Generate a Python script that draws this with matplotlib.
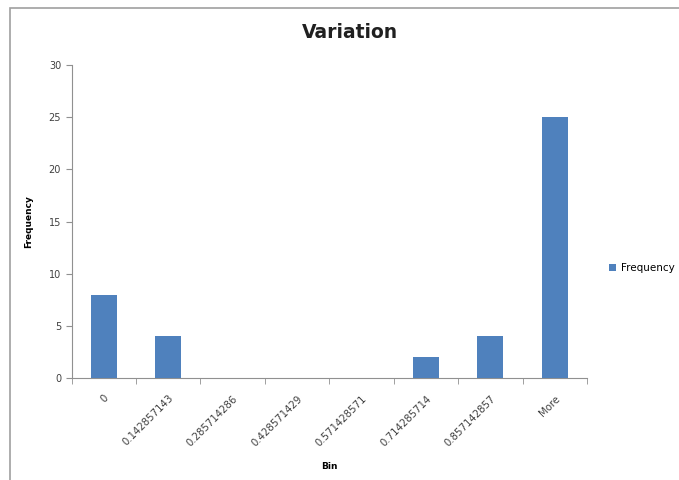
import matplotlib
matplotlib.use("Agg")
import matplotlib.pyplot as plt
from matplotlib.patches import Rectangle
import numpy as np

bins = ["0", "0.142857143", "0.285714286", "0.428571429", "0.571428571",
        "0.714285714", "0.857142857", "More"]
frequency = [8, 4, 0, 0, 0, 2, 4, 25]
yticks = [0, 5, 10, 15, 20, 25, 30]

fig = plt.figure(figsize=(6.79, 4.8), dpi=100)
W, H = 679, 480
fig.patches.append(Rectangle((10 / W, -0.1), 1.2, 1 - 8 / H + 0.1, transform=fig.transFigure,
                             fill=False, edgecolor="#a0a0a0", linewidth=1.2))
L, R, T, B = 71.5, 587, 65, 378
ax = fig.add_axes([L / W, 1 - B / H, (R - L) / W, (B - T) / H])

x = np.arange(len(bins))
ax.bar(x, frequency, width=0.4, color="#4F81BD", label="Frequency", zorder=3)
ax.set_xlim(-0.5, len(bins) - 0.5)
ax.set_ylim(0, 30)
ax.set_yticks(yticks)
ax.set_yticklabels([str(v) for v in yticks], fontsize=7, color="#404040")
ax.set_xticks(x)
ax.set_xticklabels(bins, rotation=45, ha="right", rotation_mode="anchor", fontsize=7.3, color="#404040")
for lbl in ax.get_xticklabels():
    lbl.set_x(lbl.get_position()[0])
ax.tick_params(axis="x", length=0, pad=11)
ax.set_xticks(np.arange(-0.5, len(bins)), minor=True)
ax.tick_params(axis="x", which="minor", length=4, color="#909090")
ax.tick_params(axis="y", length=4, color="#909090")
for s in ["top", "right"]:
    ax.spines[s].set_visible(False)
for s in ["left", "bottom"]:
    ax.spines[s].set_color("#909090")

fig.text(350 / W, 1 - 33 / H, "Variation", ha="center", va="center",
         fontsize=13.5, fontweight="bold", color="#202020")
ax.set_ylabel("Frequency", fontsize=6.5, fontweight="bold")
ax.yaxis.set_label_coords((33 - L) / (R - L), 0.5)
ax.set_xlabel("Bin", fontsize=6.5, fontweight="bold")
ax.xaxis.set_label_coords(0.5, (B - 462) / (B - T))

ax.legend(loc="center left", bbox_to_anchor=((605 - L) / (R - L), (B - 268) / (B - T)), frameon=False,
          fontsize=7.5, handlelength=0.7, handleheight=0.7, handletextpad=0.4, borderaxespad=0)

fig.savefig("out.png", dpi=100)
